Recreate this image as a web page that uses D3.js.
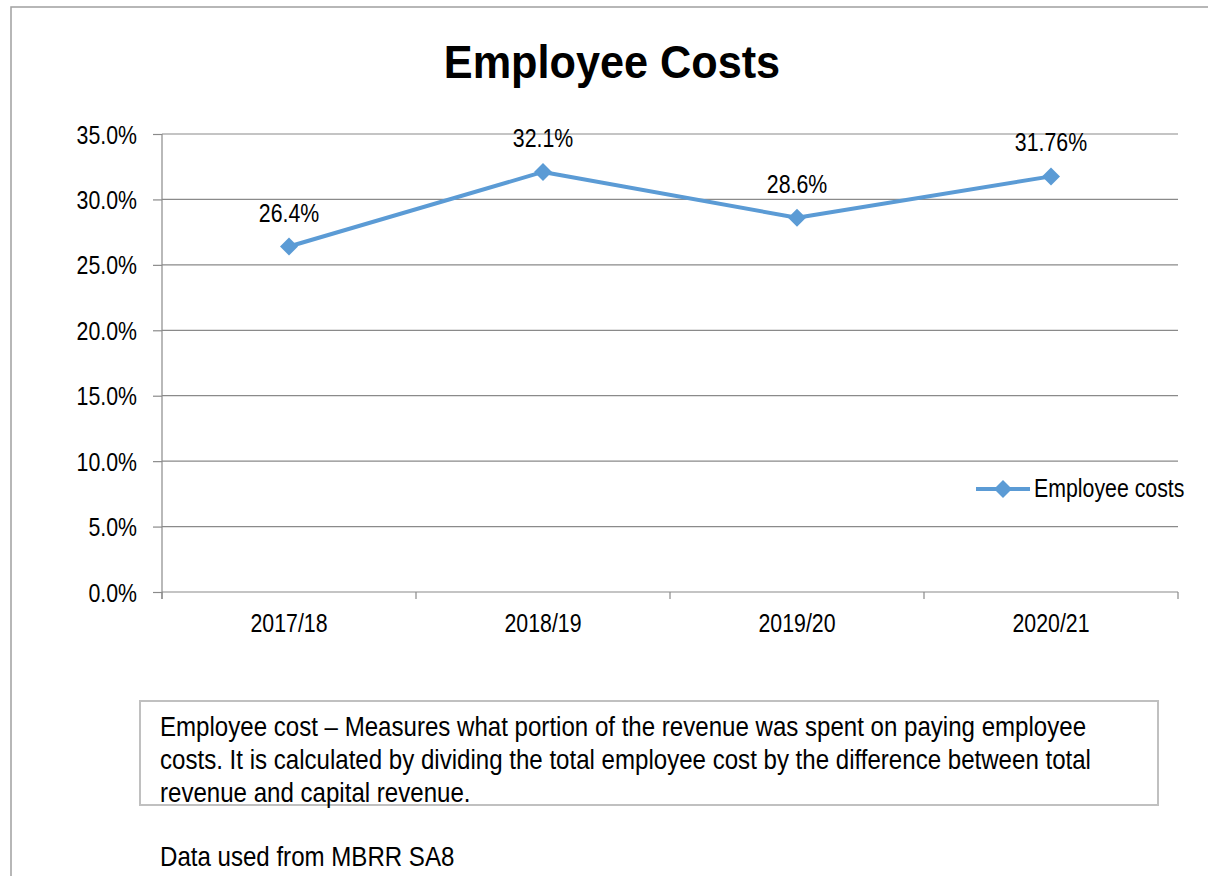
<!DOCTYPE html>
<html>
<head>
<meta charset="utf-8">
<script src="https://cdn.jsdelivr.net/npm/d3@7"></script>
<style>
  body { margin: 0; background: #fff; }
  text { font-family: "Liberation Sans", Arial, sans-serif; fill: #000; }
</style>
</head>
<body>
<svg id="chart" width="1208" height="876"></svg>
<script>
// Chart data
const categories = ["2017/18", "2018/19", "2019/20", "2020/21"];
const employeeCosts = [26.4, 32.1, 28.6, 31.76];
const valueLabels = ["26.4%", "32.1%", "28.6%", "31.76%"];
const yTicks = [0, 5, 10, 15, 20, 25, 30, 35];
const seriesName = "Employee costs";
const chartTitle = "Employee Costs";
const noteLines = [
  "Employee cost \u2013 Measures what portion of the revenue was spent on paying employee",
  "costs. It is calculated by dividing the total employee cost by the difference between total",
  "revenue and capital revenue."
];
const sourceNote = "Data used from MBRR SA8";

const svg = d3.select("#chart");
const blue = "#5b9bd5";
const gridColor = "#8a8a8a";
const squeeze = 0.82;          // narrow typeface look
const noteSqueeze = 0.845;

const plot = { left: 162, right: 1178, top: 134, bottom: 592 };

const x = d3.scaleBand().domain(categories).range([plot.left, plot.right]);
const y = d3.scaleLinear().domain([0, 35]).range([plot.bottom, plot.top]);

// text helper with horizontal condensing
function label(g, str, px, py, size, anchor, sx, weight) {
  return g.append("text")
    .attr("transform", `translate(${px},${py}) scale(${sx},1)`)
    .attr("text-anchor", anchor)
    .attr("font-size", size)
    .attr("font-weight", weight || "normal")
    .text(str);
}

// outer frame
svg.append("rect")
  .attr("x", 11).attr("y", 7)
  .attr("width", 1400).attr("height", 1000)
  .attr("fill", "none").attr("stroke", "#a0a0a0").attr("stroke-width", 1.5);

// title
label(svg, chartTitle, 612, 78, 46, "middle", 0.94, "bold");

// gridlines
svg.append("g")
  .selectAll("line")
  .data(yTicks.filter(t => t > 0))
  .join("line")
  .attr("x1", plot.left).attr("x2", plot.right)
  .attr("y1", d => y(d)).attr("y2", d => y(d))
  .attr("stroke", gridColor).attr("stroke-width", 1.2);

// y axis
const yAxis = svg.append("g")
  .attr("transform", `translate(${plot.left},0)`)
  .call(d3.axisLeft(y).tickValues(yTicks).tickSize(9).tickFormat(d => d.toFixed(1) + "%"));
yAxis.select(".domain").remove();
yAxis.selectAll(".tick line").attr("stroke", gridColor).attr("stroke-width", 1.2);
yAxis.selectAll(".tick text")
  .attr("x", null).attr("dy", null)
  .attr("transform", `translate(-25,9) scale(${squeeze},1)`)
  .attr("font-size", 26)
  .attr("font-family", "Liberation Sans, Arial, sans-serif")
  .attr("fill", "#000");
svg.append("line")
  .attr("x1", plot.left).attr("x2", plot.left)
  .attr("y1", plot.top).attr("y2", plot.bottom + 7)
  .attr("stroke", gridColor).attr("stroke-width", 1.2);

// x axis line, boundary ticks and labels
svg.append("line")
  .attr("x1", plot.left).attr("x2", plot.right)
  .attr("y1", plot.bottom).attr("y2", plot.bottom)
  .attr("stroke", gridColor).attr("stroke-width", 1.2);
const bounds = categories.map(c => x(c)).concat([x.range()[1]]);
svg.append("g").selectAll("line")
  .data(bounds)
  .join("line")
  .attr("x1", d => d).attr("x2", d => d)
  .attr("y1", plot.bottom).attr("y2", plot.bottom + 7)
  .attr("stroke", gridColor).attr("stroke-width", 1.2);
const xLab = svg.append("g");
categories.forEach(c => label(xLab, c, x(c) + x.bandwidth() / 2, plot.bottom + 40, 26, "middle", squeeze));

// series line
const cx = (d, i) => x(categories[i]) + x.bandwidth() / 2;
svg.append("path")
  .datum(employeeCosts)
  .attr("d", d3.line().x(cx).y(d => y(d)))
  .attr("fill", "none").attr("stroke", blue)
  .attr("stroke-width", 4).attr("stroke-linejoin", "round");

// diamond markers
const diamond = d3.symbol(d3.symbolSquare, 162);
svg.append("g").selectAll("path")
  .data(employeeCosts)
  .join("path")
  .attr("d", diamond)
  .attr("transform", (d, i) => `translate(${cx(d, i)},${y(d)}) rotate(45)`)
  .attr("fill", blue);

// value labels
const vLab = svg.append("g");
employeeCosts.forEach((d, i) => label(vLab, valueLabels[i], cx(d, i), y(d) - 25, 26, "middle", squeeze));

// legend
const leg = svg.append("g").attr("transform", "translate(976,489)");
leg.append("line").attr("x1", 0).attr("x2", 54).attr("y1", 0).attr("y2", 0)
  .attr("stroke", blue).attr("stroke-width", 4);
leg.append("path").attr("d", diamond).attr("transform", "translate(27,0) rotate(45)").attr("fill", blue);
label(leg, seriesName, 58, 8, 26, "start", squeeze);

// explanatory note box
svg.append("rect")
  .attr("x", 140).attr("y", 701).attr("width", 1018).attr("height", 104)
  .attr("fill", "none").attr("stroke", "#c0c0c0").attr("stroke-width", 2);
const note = svg.append("g");
noteLines.forEach((t, i) => label(note, t, 160, 736 + i * 33, 28.5, "start", noteSqueeze));
label(svg, sourceNote, 160, 866, 28.5, "start", noteSqueeze);
</script>
</body>
</html>
